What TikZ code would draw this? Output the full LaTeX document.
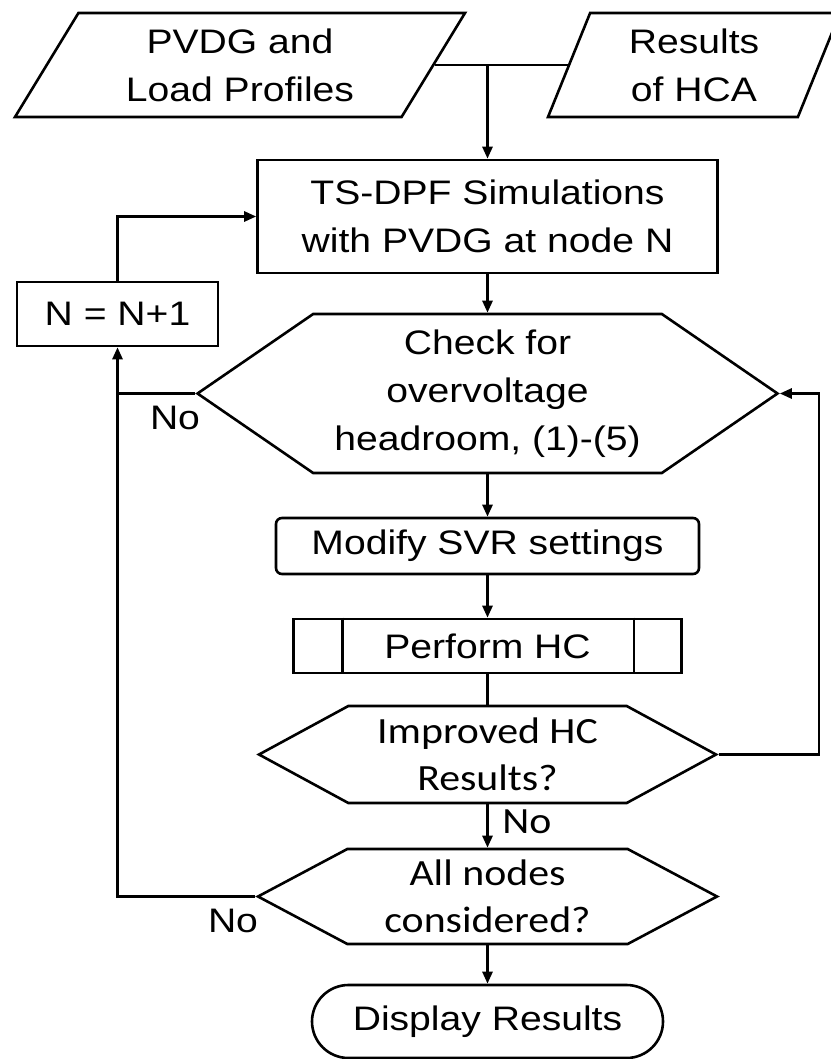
\documentclass[tikz,border=0pt]{standalone}
\usepackage{fontspec}
\setmainfont{Liberation Sans}[FakeStretch=1.15]
\newfontfamily\califont{Carlito}[FakeStretch=1.13]
\usetikzlibrary{shapes.geometric,shapes.symbols,shapes.misc,arrows.meta}
\tikzset{
  blk/.style={draw, inner sep=0pt, align=center, font=\fontsize{17}{24}\selectfont},
  calib/.style={font=\califont\fontsize{18.5}{23.5}\selectfont},
  io/.style={blk, trapezium, trapezium stretches body},
  hexa/.style={blk, signal, signal to=east and west, signal pointer angle=#1},
  lbl/.style={inner sep=0pt, font=\fontsize{17}{24}\selectfont}
}
\begin{document}
\begin{tikzpicture}[x=0.5pt,y=-0.5pt,line width=1.3pt,>={Triangle[length=6pt,width=5pt]}]
\useasboundingbox (0,0) rectangle (830,1059);
% inputs
\node[io,trapezium left angle=49,trapezium right angle=131,minimum width=225pt,minimum height=52pt] (data) at (240,65) {PVDG and\\Load Profiles};
\node[io,trapezium left angle=60,trapezium right angle=120,minimum width=146pt,minimum height=52pt] (hca) at (694,65) {Results\\of HCA};
\node[blk,minimum width=230pt,minimum height=56.5pt] (sim) at (487.5,216.5) {TS-DPF Simulations\\with PVDG at node N};
\node[blk,minimum width=100.5pt,minimum height=32pt] (incr) at (117.5,314) {N = N+1};
\node[hexa=69,minimum width=290pt,minimum height=79.5pt] (check) at (487.5,393.5) {Check for\\overvoltage\\headroom, (1)-(5)};
\node[blk,rounded corners=3pt,minimum width=211.5pt,minimum height=28pt] (svr) at (487.5,546) {Modify SVR settings};
\node[blk,minimum width=194pt,minimum height=27pt] (hc) at (487.5,646) {Perform HC};
\draw ([xshift=25pt]hc.north west) -- ([xshift=25pt]hc.south west);
\draw ([xshift=-24.5pt]hc.north east) -- ([xshift=-24.5pt]hc.south east);
\node[hexa=57,calib,minimum width=228.5pt,minimum height=48.5pt] (imp) at (487.5,754.5) {Improved HC\\Results?};
\node[hexa=56,calib,minimum width=229.5pt,minimum height=47.5pt] (all) at (487.5,896.5) {All nodes\\considered?};
\node[blk,rounded rectangle,minimum width=175.5pt,minimum height=36.5pt] (disp) at (487.5,1021.5) {Display Results};
% connectors
\coordinate (join) at (487.5,65);
\coordinate (back) at (819,754.5);
\draw (data.right side) -- (hca.left side);
\draw[->] (join) -- (sim.north);
\draw[->] (incr.north) |- (sim.west);
\draw[->] (sim.south) -- (check.north);
\draw (check.west) -- (check.west -| incr.south);
\draw[->] (all.west) -| (incr.south);
\draw[->] (check.south) -- (svr.north);
\draw[->] (svr.south) -- (hc.north);
\draw (hc.south) -- (imp.north);
\draw[->] (imp.east) -- (back) |- (check.east);
\draw[->] (imp.south) -- (all.north);
\draw[->] (all.south) -- (disp.north);
% labels
\node[lbl] (no1) at (175,418) {No};
\node[lbl,calib] (no2) at (527,822) {No};
\node[lbl] (no3) at (233,921) {No};
\end{tikzpicture}
\end{document}
